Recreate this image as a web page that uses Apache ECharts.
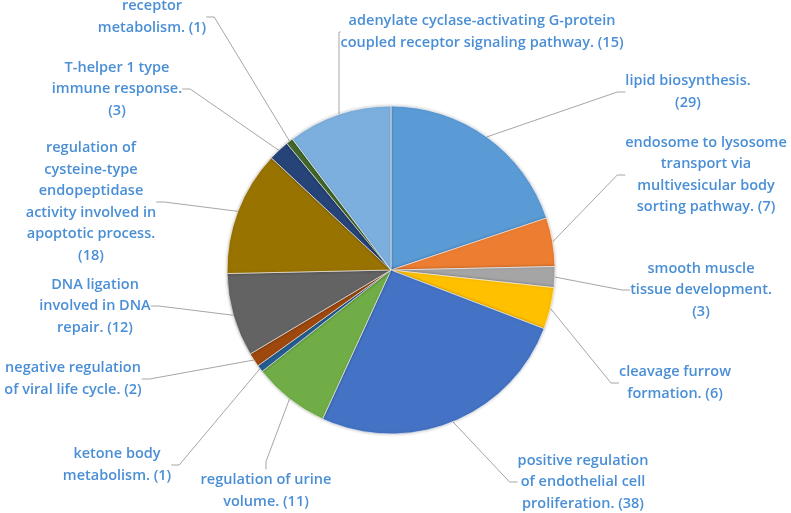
<!DOCTYPE html>
<html>
<head>
<meta charset="utf-8">
<script src="https://cdn.jsdelivr.net/npm/echarts@6/dist/echarts.min.js"></script>
<style>html,body{margin:0;padding:0;background:#fff;}#c{width:791px;height:513px;}</style>
</head>
<body>
<div id="c"></div>
<script>
var categories = [
  'lipid biosynthesis.\n(29)',
  'endosome to lysosome\ntransport via\nmultivesicular body\nsorting pathway. (7)',
  'smooth muscle\ntissue development.\n(3)',
  'cleavage furrow\nformation. (6)',
  'positive regulation\nof endothelial cell\nproliferation. (38)',
  'regulation of urine\nvolume. (11)',
  'ketone body\nmetabolism. (1)',
  'negative regulation\nof viral life cycle. (2)',
  'DNA ligation\ninvolved in DNA\nrepair. (12)',
  'regulation of\ncysteine-type\nendopeptidase\nactivity involved in\napoptotic process.\n(18)',
  'T-helper 1 type\nimmune response.\n(3)',
  'receptor\nmetabolism. (1)',
  'adenylate cyclase-activating G-protein\ncoupled receptor signaling pathway. (15)'
];
var values = [29, 7, 3, 6, 38, 11, 1, 2, 12, 18, 3, 1, 15];
var colors = ['#5B9BD5','#ED7D31','#A5A5A5','#FFC000','#4472C4','#70AD47','#255E91','#9E480E','#636363','#997300','#264478','#43682B','#7CAFDD'];
// label centre positions
var labelPos = [
  [688, 92], [706, 175], [701, 290], [675, 383], [583, 482], [266, 491],
  [117, 465], [73, 379], [95, 306], [91, 202], [117, 89], [152, 17], [482, 32]
];

var chart = echarts.init(document.getElementById('c'), null, {renderer: 'canvas'});
var data = categories.map(function (c, i) {
  return { name: c, value: values[i], itemStyle: { color: colors[i] } };
});
chart.setOption({
  animation: false,
  backgroundColor: '#fff',
  series: [{
    type: 'pie',
    center: [391, 270],
    radius: [0, 164],
    startAngle: 90,
    clockwise: true,
    data: data,
    itemStyle: { borderColor: '#ffffff', borderWidth: 0.6, shadowBlur: 3, shadowColor: 'rgba(0,0,0,0.25)' },
    label: {
      show: true,
      position: 'outside',
      formatter: '{b}',
      color: '#4a8fd6',
      fontFamily: 'Open Sans',
      fontWeight: 600,
      fontSize: 14.5,
      lineHeight: 21.5,
      align: 'center'
    },
    labelLine: { show: true, length: 10, length2: 8, lineStyle: { color: '#a6a6a6', width: 1 } },
    labelLayout: function (p) {
      var pos = labelPos[p.dataIndex];
      return { x: pos[0], y: pos[1], align: 'center', verticalAlign: 'middle' };
    },
    emphasis: { disabled: true }
  }]
});
</script>
</body>
</html>
